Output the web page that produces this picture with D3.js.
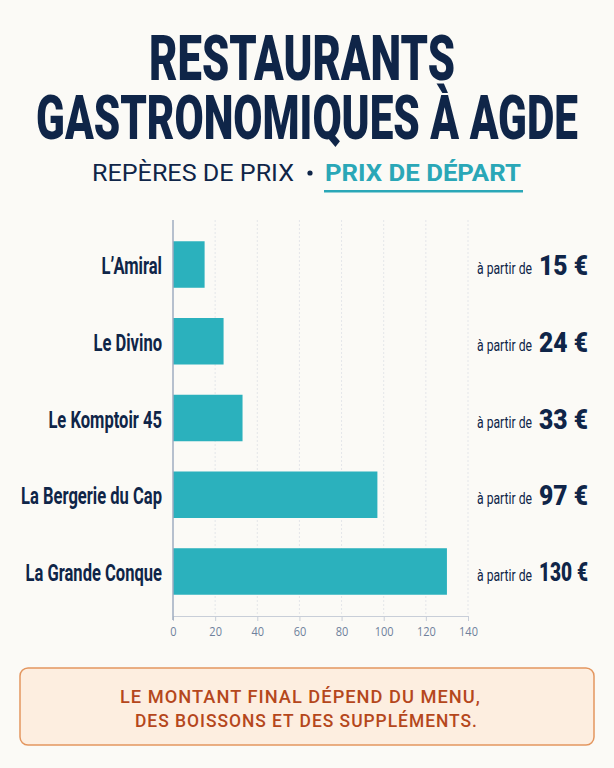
<!DOCTYPE html>
<html><head><meta charset="utf-8">
<script src="https://cdn.jsdelivr.net/npm/d3@7"></script>
<style>
html,body{margin:0;padding:0;background:#fbfaf6;}
svg{display:block;}
</style></head>
<body>
<script>
const restaurants = ["L’Amiral","Le Divino","Le Komptoir 45","La Bergerie du Cap","La Grande Conque"];
const prices = [15, 24, 33, 97, 130];
const xTicks = [0, 20, 40, 60, 80, 100, 120, 140];
const titleLines = ["RESTAURANTS","GASTRONOMIQUES À AGDE"];
const subtitleLeft = "REPÈRES DE PRIX";
const subtitleRight = "PRIX DE DÉPART";
const prefixLabel = "à partir de";
const footerLines = ["LE MONTANT FINAL DÉPEND DU MENU,","DES BOISSONS ET DES SUPPLÉMENTS."];

const W = 614, H = 768;
const navy = "#0f2548", teal = "#2bb1bd", tealText = "#2aa7b7";

const svg = d3.select("body").append("svg").attr("width", W).attr("height", H);
svg.append("rect").attr("width", W).attr("height", H).attr("fill", "#fbfaf6");

// condensed text helper: fit natural width by scaling horizontally
function ctext(g, str, x, y, opts) {
  const t = g.append("text").text(str)
    .attr("font-family", opts.family || "Roboto, 'Liberation Sans', sans-serif")
    .attr("font-size", opts.size)
    .attr("font-weight", opts.weight || 400)
    .attr("fill", opts.fill)
    .attr("text-anchor", opts.anchor || "start");
  if (opts.spacing) t.attr("letter-spacing", opts.spacing);
  const w = t.node().getComputedTextLength();
  let sx = opts.sx || 1;
  if (opts.width) sx = opts.width / w;
  t.attr("transform", `translate(${x},${y}) scale(${sx},1)`);
  return t;
}

// Title
ctext(svg, titleLines[0], 302, 80, {size: 62, weight: 900, fill: navy, anchor: "middle", width: 306});
ctext(svg, titleLines[1], 307, 139, {size: 62, weight: 900, fill: navy, anchor: "middle", width: 542});

// Subtitle
ctext(svg, subtitleLeft, 92, 181, {size: 24, weight: 400, fill: navy, width: 202});
svg.append("circle").attr("cx", 310).attr("cy", 173).attr("r", 2.6).attr("fill", navy);
ctext(svg, subtitleRight, 325, 181, {size: 24, weight: 700, fill: tealText, width: 196});
svg.append("rect").attr("x", 324).attr("y", 190).attr("width", 199).attr("height", 2.5).attr("fill", tealText);

// Chart
const x = d3.scaleLinear().domain([0, 140]).range([173, 468]);
const y = d3.scaleBand().domain(restaurants).range([220, 616]).paddingInner(0.394).paddingOuter(0.277);

const chart = svg.append("g");
chart.selectAll("line.grid").data(xTicks.filter(d => d > 0)).enter().append("line")
  .attr("class", "grid")
  .attr("x1", d => x(d)).attr("x2", d => x(d))
  .attr("y1", 220).attr("y2", 616)
  .attr("stroke", "#e4e6e9").attr("stroke-width", 1).attr("stroke-dasharray", "2,2");

const xAxis = d3.axisBottom(x).tickValues(xTicks).tickSize(5).tickPadding(6);
const ax = chart.append("g").attr("transform", "translate(0,616)").call(xAxis);
ax.select(".domain").attr("stroke", "#c8ced8");
ax.selectAll(".tick line").attr("stroke", "#c8ced8");
ax.selectAll(".tick text").attr("fill", "#6f819c").attr("font-size", 12.5)
  .attr("font-family", "'Open Sans', Roboto, sans-serif")
  .attr("transform", "scale(0.88,1)");

chart.selectAll("rect.bar").data(restaurants).enter().append("rect")
  .attr("class", "bar")
  .attr("x", x(0)).attr("y", d => y(d))
  .attr("width", (d, i) => x(prices[i]) - x(0))
  .attr("height", y.bandwidth())
  .attr("fill", teal);

chart.append("line").attr("x1", x(0)).attr("x2", x(0)).attr("y1", 220).attr("y2", 620)
  .attr("stroke", "#9fadc0").attr("stroke-width", 1.5);

restaurants.forEach((r, i) => {
  const cy = y(r) + y.bandwidth() / 2;
  ctext(chart, r, 162, cy + 9.5, {size: 24, weight: 700, fill: navy, anchor: "end", sx: 0.69});
  ctext(chart, prefixLabel, 477, cy + 9.5, {size: 17, weight: 400, fill: navy, width: 55});
  const big = prices[i] >= 100;
  ctext(chart, prices[i] + " €", 539, cy + (big ? 9.5 : 10.5), {size: big ? 26 : 27, weight: 900, fill: navy, width: big ? 49 : 49});
});

// Footer
svg.append("rect").attr("x", 20).attr("y", 668).attr("width", 574).attr("height", 77)
  .attr("rx", 8).attr("fill", "#fdeee0").attr("stroke", "#e3965f").attr("stroke-width", 1.5);
ctext(svg, footerLines[0], 120, 703, {size: 18, weight: 500, fill: "#b5471c", width: 361, spacing: 1});
ctext(svg, footerLines[1], 135, 727, {size: 18, weight: 500, fill: "#b5471c", width: 343, spacing: 1});
</script>
</body></html>
